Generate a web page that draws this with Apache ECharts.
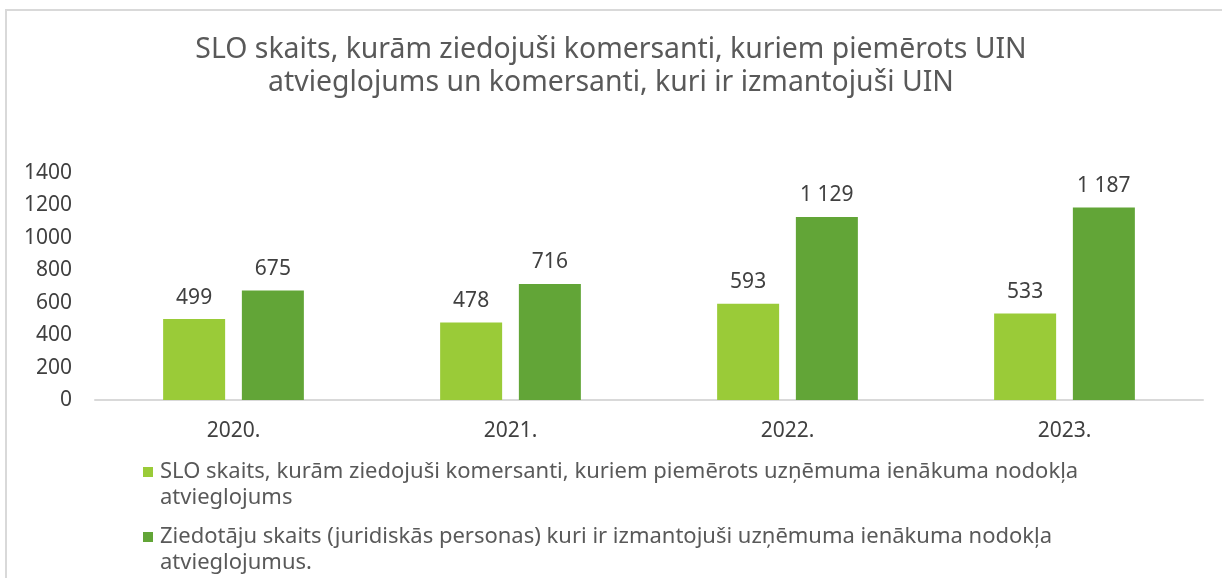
<!DOCTYPE html>
<html>
<head>
<meta charset="utf-8">
<script src="https://cdn.jsdelivr.net/npm/echarts@6/dist/echarts.min.js"></script>
<style>
  html, body { margin: 0; padding: 0; background: #fff; }
  #main { width: 1222px; height: 578px; }
</style>
</head>
<body>
<div id="main"></div>
<script>
const years = ['2020.', '2021.', '2022.', '2023.'];
const sloCount = [499, 478, 593, 533];
const donorCount = [675, 716, 1129, 1187];
const yTicks = [0, 200, 400, 600, 800, 1000, 1200, 1400];
const seriesNames = [
  'SLO skaits, kurām ziedojuši komersanti, kuriem piemērots uzņēmuma ienākuma nodokļa\natvieglojums',
  'Ziedotāju skaits (juridiskās personas) kuri ir izmantojuši uzņēmuma ienākuma nodokļa\natvieglojumus.'
];
const colors = ['#9ACB38', '#62A537'];

const font = '"Noto Sans", sans-serif';
const chart = echarts.init(document.getElementById('main'));

// skaitļi ar atstarpi tūkstošiem: 1 129
function fmt(v) {
  return String(v).replace(/\B(?=(\d{3})+(?!\d))/g, ' ');
}

// leģenda ar graphic, lai ikona būtu pie pirmās rindas
const legendItems = [];
seriesNames.forEach(function (name, i) {
  const y = 467 + i * 65;
  legendItems.push({
    type: 'rect',
    shape: { x: 143, y: y, width: 10, height: 10 },
    style: { fill: colors[i] },
    silent: true
  });
  legendItems.push({
    type: 'text',
    x: 160,
    y: y - 8,
    style: {
      text: name,
      font: '22px ' + font,
      fill: '#595959',
      lineHeight: 26,
      verticalAlign: 'top'
    },
    silent: true
  });
});

const option = {
  animation: false,
  backgroundColor: '#fff',
  title: {
    text: 'SLO skaits, kurām ziedojuši komersanti, kuriem piemērots UIN\natvieglojums un komersanti, kuri ir izmantojuši UIN',
    left: 'center',
    top: 28,
    textStyle: {
      fontFamily: font,
      fontSize: 28.4,
      fontWeight: 'normal',
      color: '#595959',
      lineHeight: 33
    }
  },
  graphic: [{
    type: 'rect',
    shape: { x: 6, y: 10, width: 1230, height: 580 },
    style: { fill: 'none', stroke: '#d9d9d9', lineWidth: 2 },
    silent: true
  }].concat(legendItems),
  grid: {
    left: 95,
    right: 19,
    top: 173,
    bottom: 178,
    containLabel: false
  },
  xAxis: {
    type: 'category',
    data: years,
    axisLine: { lineStyle: { color: '#d9d9d9', width: 2 } },
    axisTick: { show: false },
    axisLabel: {
      margin: 21,
      fontFamily: font,
      fontSize: 21,
      color: '#404040'
    }
  },
  yAxis: {
    type: 'value',
    min: yTicks[0],
    max: yTicks[yTicks.length - 1],
    interval: 200,
    splitLine: { show: false },
    axisLine: { show: false },
    axisTick: { show: false },
    axisLabel: {
      margin: 23,
      fontFamily: font,
      fontSize: 21,
      color: '#404040',
      formatter: v => String(v)
    }
  },
  series: [
    {
      name: seriesNames[0],
      type: 'bar',
      data: sloCount,
      barWidth: 62,
      barGap: '27%',
      itemStyle: { color: colors[0] },
      label: {
        show: true,
        position: 'top',
        distance: 11,
        fontFamily: font,
        fontSize: 21,
        color: '#404040',
        formatter: p => fmt(p.value)
      }
    },
    {
      name: seriesNames[1],
      type: 'bar',
      data: donorCount,
      barWidth: 62,
      itemStyle: { color: colors[1] },
      label: {
        show: true,
        position: 'top',
        distance: 11,
        fontFamily: font,
        fontSize: 21,
        color: '#404040',
        formatter: p => fmt(p.value)
      }
    }
  ]
};

chart.setOption(option);
</script>
</body>
</html>
